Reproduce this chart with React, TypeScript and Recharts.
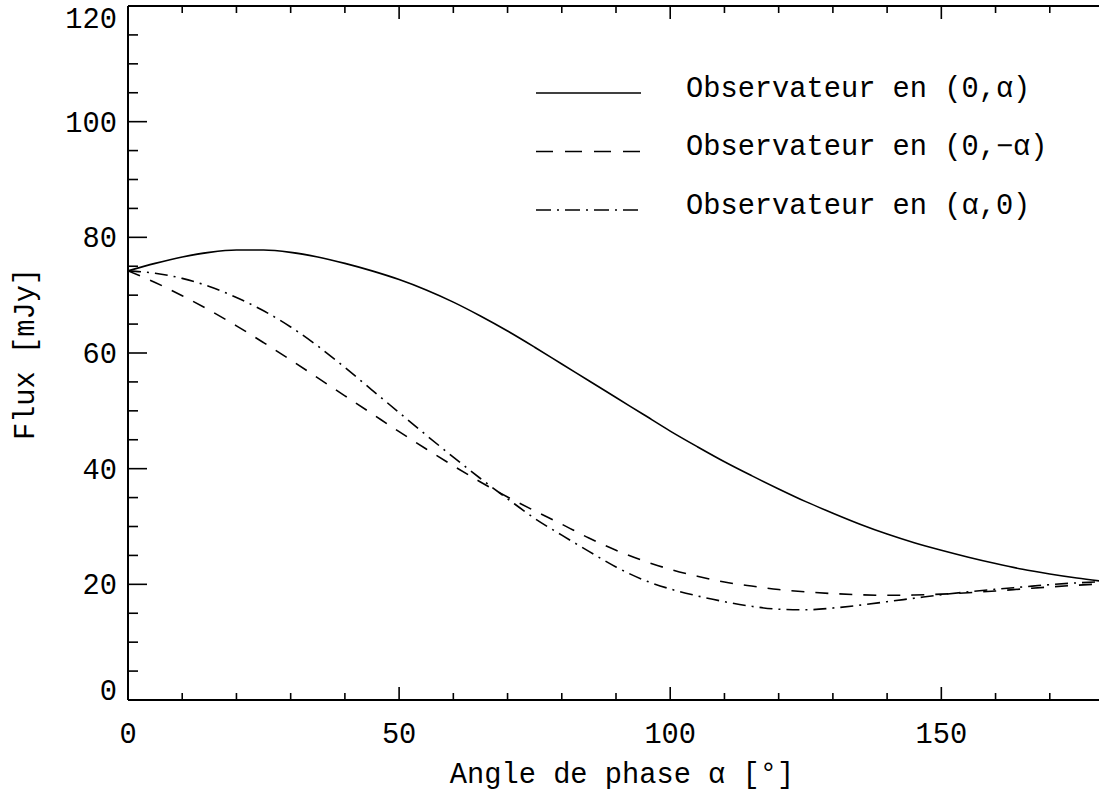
import { LineChart, Line, XAxis, YAxis, Legend } from "recharts";

// phase angle (deg) and flux (mJy) for the three observer positions
const angles = [
  0, 5, 10, 15, 20, 25, 30, 35, 40, 45, 50, 55, 60, 65, 70, 75, 80, 85, 90,
  95, 100, 105, 110, 115, 120, 125, 130, 135, 140, 145, 150, 155, 160, 165,
  170, 175, 180,
];
const fluxZeroAlpha = [
  74.2, 75.5, 76.6, 77.4, 77.8, 77.8, 77.4, 76.6, 75.5, 74.2, 72.7, 70.9,
  68.8, 66.4, 63.8, 61.0, 58.1, 55.2, 52.3, 49.4, 46.5, 43.8, 41.2, 38.8,
  36.5, 34.3, 32.3, 30.4, 28.7, 27.2, 25.9, 24.7, 23.6, 22.6, 21.8, 21.1,
  20.5,
];
const fluxZeroMinusAlpha = [
  74.2, 72.2, 69.9, 67.4, 64.7, 61.8, 58.8, 55.7, 52.6, 49.5, 46.4, 43.4,
  40.5, 37.7, 35.1, 32.7, 30.4, 28.0, 25.9, 24.1, 22.6, 21.4, 20.4, 19.7,
  19.1, 18.7, 18.4, 18.2, 18.1, 18.15, 18.3, 18.55, 18.85, 19.2, 19.55,
  19.85, 20.1,
];
const fluxAlphaZero = [
  74.2, 73.8, 72.9, 71.5, 69.6, 67.3, 64.5, 61.2, 57.5, 53.6, 49.7, 45.8,
  42.0, 38.3, 34.8, 31.4, 28.5, 25.7, 23.0, 20.8, 19.2, 18.0, 17.0, 16.2,
  15.7, 15.6, 15.9, 16.4, 17.0, 17.6, 18.2, 18.7, 19.15, 19.55, 19.95,
  20.25, 20.45,
];

const xTicks = [0, 10, 20, 30, 40, 50, 60, 70, 80, 90, 100, 110, 120, 130, 140, 150, 160, 170, 180];
const xLabels = [0, 50, 100, 150];
const yTicks = [0, 5, 10, 15, 20, 25, 30, 35, 40, 45, 50, 55, 60, 65, 70, 75, 80, 85, 90, 95, 100, 105, 110, 115, 120];
const yLabels = [0, 20, 40, 60, 80, 100, 120];

const series = [
  { key: "zeroAlpha", name: "Observateur en (0,α)", dash: undefined, legendDash: undefined },
  { key: "zeroMinusAlpha", name: "Observateur en (0,−α)", dash: "13 11", legendDash: "17 12" },
  { key: "alphaZero", name: "Observateur en (α,0)", dash: "13 6 2 6", legendDash: "15 6 2 6" },
];

const rows = angles.map((a, i) => ({
  angle: a,
  zeroAlpha: fluxZeroAlpha[i],
  zeroMinusAlpha: fluxZeroMinusAlpha[i],
  alphaZero: fluxAlphaZero[i],
}));

const FONT = '"Liberation Mono", "DejaVu Sans Mono", monospace';
const FS = 28.7;
const PLOT_TOP = 6;
const PLOT_BOTTOM = 700;

const tickLine = { stroke: "#000", strokeWidth: 1.6 };

const BottomTick = ({ x, y, payload }: any) => {
  const major = xLabels.includes(payload.value);
  return (
    <g>
      <line x1={x} x2={x} y1={y} y2={y - (major ? 13 : 7)} {...tickLine} />
      {major && (
        <text x={x} y={y + 43} textAnchor="middle" fontFamily={FONT} fontSize={FS} fill="#000">
          {payload.value}
        </text>
      )}
    </g>
  );
};

const TopTick = ({ x, y, payload }: any) => {
  const major = xLabels.includes(payload.value);
  return <line x1={x} x2={x} y1={y} y2={y + (major ? 13 : 7)} {...tickLine} />;
};

const LeftTick = ({ x, y, payload }: any) => {
  const major = yLabels.includes(payload.value);
  // keep the end labels inside the frame
  const base = Math.min(Math.max(y + 10, PLOT_TOP + 22), PLOT_BOTTOM);
  return (
    <g>
      <line x1={x} x2={x + (major ? 19 : 10)} y1={y} y2={y} {...tickLine} />
      {major && (
        <text x={x - 11} y={base} textAnchor="end" fontFamily={FONT} fontSize={FS} fill="#000">
          {payload.value}
        </text>
      )}
    </g>
  );
};

const RightTick = ({ x, y, payload }: any) => {
  const major = yLabels.includes(payload.value);
  return <line x1={x} x2={x - (major ? 19 : 10)} y1={y} y2={y} {...tickLine} />;
};

const XTitle = ({ viewBox }: any) => (
  <text
    x={viewBox.x + viewBox.width / 2 + 6}
    y={viewBox.y + 83}
    textAnchor="middle"
    fontFamily={FONT}
    fontSize={FS}
    fill="#000"
  >
    Angle de phase α [°]
  </text>
);

const YTitle = ({ viewBox }: any) => {
  const cx = viewBox.x + 26;
  const cy = viewBox.y + viewBox.height / 2 + 1;
  return (
    <text
      x={cx}
      y={cy}
      transform={`rotate(-90 ${cx} ${cy})`}
      textAnchor="middle"
      dominantBaseline="central"
      fontFamily={FONT}
      fontSize={FS}
      fill="#000"
    >
      Flux [mJy]
    </text>
  );
};

const LegendBox = () => (
  <svg width={560} height={170} style={{ display: "block" }}>
    {series.map((s, i) => (
      <g key={s.key}>
        <line
          x1={6}
          x2={111}
          y1={31 + i * 58.5}
          y2={31 + i * 58.5}
          stroke="#000"
          strokeWidth={1.6}
          strokeDasharray={s.legendDash}
        />
        <text x={156} y={35 + i * 58.3} fontFamily={FONT} fontSize={FS} fill="#000">
          {s.name}
        </text>
      </g>
    ))}
  </svg>
);

export default function App() {
  return (
    <div
      style={{
        position: "absolute",
        left: 0,
        top: 0,
        width: 1099,
        height: 791,
        overflow: "hidden",
        background: "#fff",
      }}
    >
      <LineChart
        width={1110}
        height={791}
        data={rows}
        margin={{ top: PLOT_TOP - 1, right: 5, bottom: 31, left: 0 }}
      >
        <XAxis
          xAxisId="bottom"
          dataKey="angle"
          type="number"
          domain={[0, 180]}
          ticks={xTicks}
          interval={0}
          height={60}
          tickSize={0}
          tickMargin={0}
          tickLine={false}
          axisLine={{ stroke: "#000", strokeWidth: 2 }}
          tick={<BottomTick />}
          label={<XTitle />}
        />
        <XAxis
          xAxisId="top"
          orientation="top"
          dataKey="angle"
          type="number"
          domain={[0, 180]}
          ticks={xTicks}
          interval={0}
          height={1}
          tickSize={0}
          tickMargin={0}
          tickLine={false}
          axisLine={{ stroke: "#000", strokeWidth: 2 }}
          tick={<TopTick />}
        />
        <YAxis
          yAxisId="left"
          type="number"
          domain={[0, 120]}
          ticks={yTicks}
          interval={0}
          width={128}
          tickSize={0}
          tickMargin={0}
          tickLine={false}
          axisLine={{ stroke: "#000", strokeWidth: 2 }}
          tick={<LeftTick />}
          label={<YTitle />}
        />
        <YAxis
          yAxisId="right"
          orientation="right"
          type="number"
          domain={[0, 120]}
          ticks={yTicks}
          interval={0}
          width={1}
          tickSize={0}
          tickMargin={0}
          tickLine={false}
          axisLine={{ stroke: "#000", strokeWidth: 2 }}
          tick={<RightTick />}
        />
        <Legend
          layout="vertical"
          align="center"
          verticalAlign="middle"
          content={<LegendBox />}
          wrapperStyle={{ position: "absolute", left: 530, top: 62, width: 560 }}
        />
        {series.map((s) => (
          <Line
            key={s.key}
            xAxisId="bottom"
            yAxisId="left"
            dataKey={s.key}
            name={s.name}
            type="monotone"
            stroke="#000"
            strokeWidth={1.6}
            strokeDasharray={s.dash}
            dot={false}
            activeDot={false}
            isAnimationActive={false}
          />
        ))}
      </LineChart>
    </div>
  );
}
